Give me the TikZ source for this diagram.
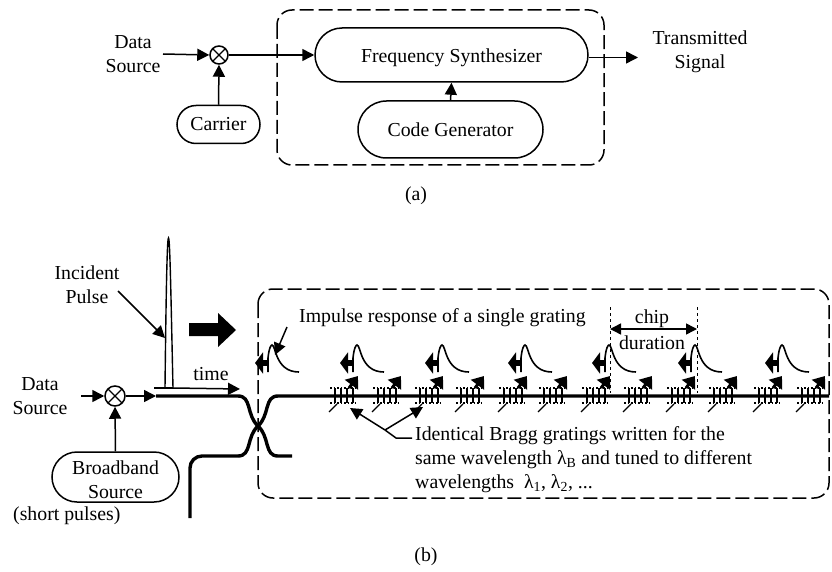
\documentclass[tikz,border=0pt]{standalone}
\usepackage{fontspec}
\setmainfont{Liberation Serif}
\usetikzlibrary{arrows.meta, shapes.misc}
\tikzset{
  lbl/.style={inner sep=0pt, align=center, font=\fontsize{19.8}{24}\selectfont},
  pill/.style={draw, line width=1.5pt, rounded rectangle, inner sep=0pt, font=\fontsize{19.8}{24}\selectfont, align=center},
  mixer/.style={draw, circle, line width=1.5pt, minimum size=20pt, inner sep=0pt,
    path picture={\draw[line width=1.4pt] (path picture bounding box.north west) -- (path picture bounding box.south east)
      (path picture bounding box.north east) -- (path picture bounding box.south west);}},
  conn/.style={line width=1.5pt, -{Triangle[length=12pt,width=12pt]}},
  fatup/.style={line width=3pt, -{Triangle[length=11pt,width=16pt]}},
  fatleft/.style={line width=5.5pt, -{Triangle[length=8pt,width=21pt]}},
  fiber/.style={line width=3.4pt},
  dashbox/.style={line width=1.5pt, dash pattern=on 14pt off 5pt, rounded corners=15pt}
}
% one grating of the row on the fibre
\newcommand{\grating}[1]{
  \draw [line width=1.2pt, dash pattern=on 1.5pt off 2pt] (#1-14,388) -- (#1+14,388);
  \draw [line width=1.2pt, dash pattern=on 1.5pt off 2pt] (#1-14,403) -- (#1+14,403);
  \draw [line width=1.5pt] (#1-9,388) -- (#1-9,403);
  \draw [line width=1.5pt] (#1-3,388) -- (#1-3,403);
  \draw [line width=1.5pt] (#1+3,388) -- (#1+3,403);
  \draw [line width=1.5pt] (#1+9,388) -- (#1+9,403);
  \draw [line width=1.2pt] (#1-15,412) -- (#1-7,404);
  \draw [fatup] (#1+5,388) -- (#1+14,376);
}
% reflected pulse with its arrow
\newcommand{\echo}[1]{
  \draw [line width=1.6pt] (#1,372) -- (#1,358) .. controls (#1+1,348) and (#1+3,345) .. (#1+4,345)
    .. controls (#1+8,345) and (#1+7,372) .. (#1+31,372);
  \draw [fatleft] (#1,363) -- (#1-13,363);
}
\begin{document}
\begin{tikzpicture}[x=1pt,y=-1pt]
        \useasboundingbox (0,0) rectangle (832,572);
        \draw [dashbox] (277,10) rectangle (604,165);
        \node [pill, minimum width=273pt, minimum height=54pt] (synth) at (451.5,55) {\rule{0pt}{20pt}Frequency Synthesizer};
        \node [pill, minimum width=185pt, minimum height=57pt] (codegen) at (450.5,129.5) {Code Generator};
        \node [pill, minimum width=83pt, minimum height=38pt] (carrier) at (218.5,124.5) {Carrier};
        \node [mixer, minimum size=18pt] (mixa) at (219,55) {};
        \node [lbl] (dataa) at (133,54) {Data\\Source};
        \node [lbl] (signal) at (700,52) {Transmitted\\Signal};
        \node [lbl] (capa) at (416,196) {(a)};
        \coordinate (dataaend) at (163,54);
        \coordinate (signalend) at (638,57.5);
        \draw [conn] (dataaend) -- (mixa.west);
        \draw [conn] (carrier.north) -- (mixa.south);
        \draw [conn] (mixa.east) -- (synth.west);
        \draw [conn] (codegen.north) -- (synth.south);
        \draw [conn] (synth.east |- signalend) -- (signalend);

        \draw [dashbox] (258,289) rectangle (829,498);
        \node [lbl] (datab) at (40,396.5) {Data\\Source};
        \node [mixer] (mixb) at (115,396) {};
        \node [pill, minimum width=127pt, minimum height=50pt] (broad) at (115.5,477) {\rule{0pt}{20pt}Broadband\\Source};
        \node [lbl, anchor=west] (short) at (13,516) {(short pulses)};
        \node [lbl] (incident) at (87,285) {Incident\\Pulse};
        \node [lbl] (timelbl) at (211,374) {time};
        \node [lbl, anchor=west] (impulse) at (299,318) {Impulse response of a single grating};
        \node [lbl] (chip) at (652,319) {chip};
        \node [lbl] (duration) at (652,343) {duration};
        \node [lbl, anchor=west, align=left] (bragg) at (415,460) {Identical Bragg gratings written for the\\same wavelength λ\textsubscript{B} and tuned to different\\wavelengths~ λ\textsubscript{1}, λ\textsubscript{2}, ...};
        \node [lbl] (capb) at (426,557) {(b)};

        \coordinate (databend) at (81,396);
        \coordinate (fiberin) at (156,396);
        \coordinate (pulseb) at (154,388);
        \coordinate (pulsel) at (165,388);
        \coordinate (pulsetop) at (168.5,238);
        \coordinate (pulser) at (173,388);
        \coordinate (timeend) at (240,389);
        \coordinate (cross) at (258,426);
        \coordinate (fiberend) at (829,396);
        \coordinate (lowin) at (190,518);
        \coordinate (lowout) at (292,456);
        \draw [conn] (databend) -- (mixb.west);
        \draw [conn] (broad.north) -- (mixb.south);
        \draw [conn] (mixb.east) -- (fiberin);

        \grating{344}
        \grating{387}
        \grating{429}
        \grating{470}
        \grating{513}
        \grating{553}
        \grating{596}
        \grating{638}
        \grating{681}
        \grating{723}
        \grating{768}
        \grating{811}

        \draw [fiber] (fiberin) -- (238,396) .. controls (252,396) and (246,415) .. (cross)
          .. controls (270,437) and (264,456) .. (278,456) -- (lowout);
        \draw [fiber, rounded corners=12pt] (lowin) -- (190,456) -- (238,456);
        \draw [fiber] (238,456) .. controls (252,456) and (246,437) .. (cross)
          .. controls (270,415) and (264,396) .. (278,396) -- (fiberend);

        \draw [line width=1.4pt] (pulseb) -- (pulser);
        \draw [line width=1.4pt] (pulsel) .. controls (166,300) and (167,238) .. (pulsetop)
          .. controls (170,238) and (171,300) .. (pulser);
        \draw [conn] (pulser) -- (timeend);
        \coordinate (incidentend) at (118,291);
        \coordinate (impulseend) at (287,327);
        \draw [conn] (incidentend) -- (165,338);
        \draw [conn] (impulseend) -- (275,355);
        \fill (189,323) -- (218,323) -- (218,313) -- (236,330) -- (218,347) -- (218,336) -- (189,336) -- cycle;

        \echo{268}
        \echo{353}
        \echo{438}
        \echo{521}
        \echo{605}
        \echo{691}
        \echo{778}

        \draw [line width=1pt, dashed] (610,307) -- (610,393);
        \draw [line width=1pt, dashed] (697,307) -- (697,393);
        \coordinate (chipl) at (610,329);
        \coordinate (chipr) at (697,329);
        \draw [line width=1.5pt, {Triangle[length=11pt,width=11pt]}-{Triangle[length=11pt,width=11pt]}] (chipl) -- (chipr);

        \coordinate (braggbend) at (396,438);
        \coordinate (braggfork) at (385,430);
        \draw [line width=1.5pt] (bragg.west |- braggbend) ++(-3,0) -- (braggbend) -- (braggfork);
        \draw [conn] (braggfork) -- (350,408);
        \draw [conn] (braggfork) -- (423,407);
\end{tikzpicture}
\end{document}
